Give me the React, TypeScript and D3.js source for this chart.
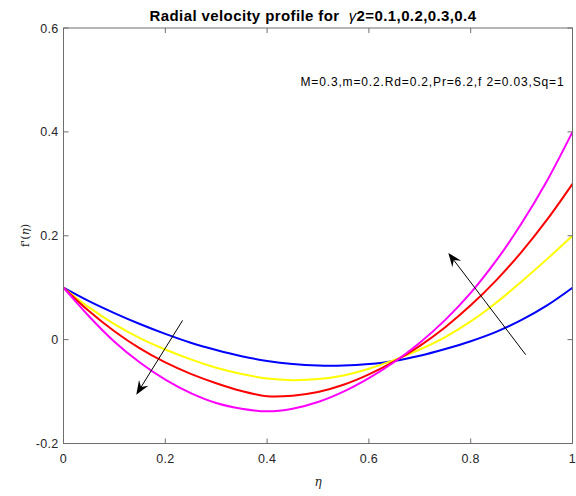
import React from "react";
import * as d3 from "d3";

const eta = [0, 0.05, 0.1, 0.15, 0.2, 0.25, 0.3, 0.35, 0.4, 0.45, 0.5, 0.55, 0.6, 0.65, 0.7, 0.75, 0.8, 0.85, 0.9, 0.95, 1];
const gamma01 = [0.1, 0.074, 0.051, 0.03, 0.011, -0.006, -0.02, -0.032, -0.041, -0.047, -0.05, -0.05, -0.047, -0.041, -0.031, -0.018, -0.003, 0.015, 0.038, 0.066, 0.1];
const gamma02 = [0.1, 0.062, 0.03, 0.003, -0.019, -0.038, -0.054, -0.066, -0.075, -0.078, -0.076, -0.069, -0.056, -0.039, -0.019, 0.005, 0.035, 0.071, 0.112, 0.155, 0.2];
const gamma03 = [0.1, 0.055, 0.016, -0.017, -0.044, -0.066, -0.084, -0.099, -0.109, -0.108, -0.101, -0.087, -0.067, -0.042, -0.012, 0.024, 0.066, 0.114, 0.169, 0.231, 0.3];
const gamma04 = [0.1, 0.045, -0.004, -0.044, -0.077, -0.103, -0.122, -0.133, -0.138, -0.133, -0.12, -0.1, -0.074, -0.043, -0.006, 0.038, 0.09, 0.152, 0.224, 0.306, 0.4];
const seriesColors = ["#0000ff", "#ffff00", "#ff0000", "#ff00ff"];
const xTicks = [0, 0.2, 0.4, 0.6, 0.8, 1];
const yTicks = [-0.2, 0, 0.2, 0.4, 0.6];
// arrows: [tailEta, tailF, headEta, headF]
const arrowDown = [0.234, 0.037, 0.143, -0.106];
const arrowUp = [0.908, -0.029, 0.756, 0.167];

const W = 576, H = 496;
const left = 63.5, right = 572.5, top = 28, bottom = 443.5;

export default function App() {
  const x = d3.scaleLinear().domain([0, 1]).range([left, right]);
  const y = d3.scaleLinear().domain([-0.2, 0.6]).range([bottom, top]);
  const line = d3.line<number>().x((_, i) => x(eta[i])).y((d) => y(d)).curve(d3.curveCatmullRom.alpha(0.5));
  const series = [gamma01, gamma02, gamma03, gamma04];
  const font = "'Liberation Sans', Arial, Helvetica, sans-serif";
  const axisColor = "#6e6e6e";
  const textColor = "#262626";

  const arrow = (a: number[], key: string) => {
    const x1 = x(a[0]), y1 = y(a[1]), x2 = x(a[2]), y2 = y(a[3]);
    const ang = Math.atan2(y2 - y1, x2 - x1);
    const L = 14, Wd = 5.5, notch = 9;
    const ux = Math.cos(ang), uy = Math.sin(ang);
    const px = -uy, py = ux;
    const bx = x2 - ux * L, by = y2 - uy * L;
    const nx = x2 - ux * notch, ny = y2 - uy * notch;
    const pts = [
      [x2, y2],
      [bx + px * Wd, by + py * Wd],
      [nx, ny],
      [bx - px * Wd, by - py * Wd],
    ];
    return (
      <g key={key}>
        <line x1={x1} y1={y1} x2={nx} y2={ny} stroke="#000" strokeWidth={1} />
        <polygon points={pts.map((p) => p.join(",")).join(" ")} fill="#000" />
      </g>
    );
  };

  return (
    <svg width={W} height={H} style={{ position: "absolute", left: 0, top: 0, background: "#fff" }}>
      <rect x={0} y={0} width={W} height={H} fill="#fff" />
      {series.map((s, i) => (
        <path key={i} d={line(s) || ""} fill="none" stroke={seriesColors[i]} strokeWidth={2} />
      ))}
      <rect x={left} y={top} width={right - left} height={bottom - top} fill="none" stroke={axisColor} strokeWidth={1} />
      {xTicks.map((t) => (
        <g key={"x" + t}>
          <line x1={x(t)} x2={x(t)} y1={bottom} y2={bottom - 5} stroke={axisColor} />
          <line x1={x(t)} x2={x(t)} y1={top} y2={top + 5} stroke={axisColor} />
          <text x={x(t)} y={463} textAnchor="middle" fontFamily={font} fontSize={12.5} letterSpacing={0.3} fill={textColor}>
            {String(t)}
          </text>
        </g>
      ))}
      {yTicks.map((t) => (
        <g key={"y" + t}>
          <line x1={left} x2={left + 5} y1={y(t)} y2={y(t)} stroke={axisColor} />
          <line x1={right} x2={right - 5} y1={y(t)} y2={y(t)} stroke={axisColor} />
          <text x={58.5} y={y(t) + 4.5} textAnchor="end" fontFamily={font} fontSize={12.5} letterSpacing={0.3} fill={textColor}>
            {String(t)}
          </text>
        </g>
      ))}
      {arrow(arrowDown, "a1")}
      {arrow(arrowUp, "a2")}
      <text x={313} y={21} textAnchor="middle" fontFamily={font} fontSize={15} fontWeight="bold" letterSpacing={0.4} fill="#000">
        Radial velocity profile for{"\u00a0\u00a0"}
        <tspan fontWeight="normal" fontStyle="italic">γ</tspan>2=0.1,0.2,0.3,0.4
      </text>
      <text x={300.5} y={85.5} fontFamily={font} fontSize={12} letterSpacing={0.85} fill="#000">
        M=0.3,m=0.2.Rd=0.2,Pr=6.2,f 2=0.03,Sq=1
      </text>
      <text x={318} y={486} textAnchor="middle" fontFamily="'DejaVu Serif', serif" fontStyle="italic" fontSize={12} fill={textColor}>
        η
      </text>
      <text transform="translate(29,235.5) rotate(-90)" textAnchor="middle" fontFamily="'DejaVu Serif', serif" fontSize={11.5} fill={textColor}>
        f'(<tspan fontStyle="italic">η</tspan>)
      </text>
    </svg>
  );
}
